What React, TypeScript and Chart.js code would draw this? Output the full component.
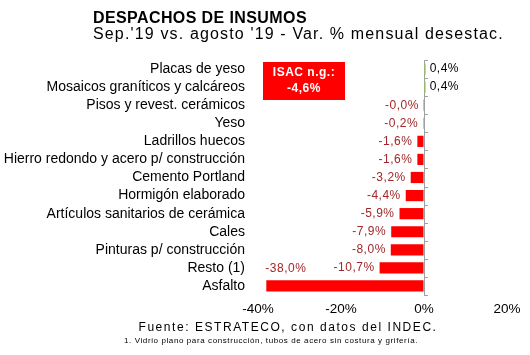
import React, { useEffect, useRef } from 'react';
import { Chart, registerables } from 'chart.js';

Chart.register(...registerables);

const categories = [
  'Placas de yeso',
  'Mosaicos graníticos y calcáreos',
  'Pisos y revest. cerámicos',
  'Yeso',
  'Ladrillos huecos',
  'Hierro redondo y acero p/ construcción',
  'Cemento Portland',
  'Hormigón elaborado',
  'Artículos sanitarios de cerámica',
  'Cales',
  'Pinturas p/ construcción',
  'Resto (1)',
  'Asfalto',
];
const values = [0.4, 0.4, -0.04, -0.2, -1.6, -1.6, -3.2, -4.4, -5.9, -7.9, -8.0, -10.7, -38.0];
const xTicks = [-40, -20, 0, 20];

const titleText = 'DESPACHOS DE INSUMOS';
const subtitleText = "Sep.'19 vs. agosto '19 - Var. % mensual desestac.";
const sourceText = 'Fuente: ESTRATECO, con datos del INDEC.';
const footnoteText = '1. Vidrio plano para construcción, tubos de acero sin costura y grifería.';
const boxLines = ['ISAC n.g.:', '-4,6%'];

const FONT = '"Liberation Sans", Arial, sans-serif';
const NEG = '#ff0000';
const POS = '#92d050';
const NEG_LABEL = '#a0282a';

const fmt = (v: number) => v.toFixed(1).replace('.', ',') + '%';

const overlayPlugin = {
  id: 'overlay',
  afterDatasetsDraw(chart: any) {
    const ctx = chart.ctx as CanvasRenderingContext2D;
    const meta = chart.getDatasetMeta(0);
    const xs = chart.scales.x;
    const ys = chart.scales.y;
    const x0 = xs.getPixelForValue(0);
    ctx.save();
    const step = ys.getPixelForTick(1) - ys.getPixelForTick(0);
    ctx.strokeStyle = '#a0a0a0';
    ctx.lineWidth = 1;
    for (let i = 0; i <= categories.length; i++) {
      const y = Math.round(ys.getPixelForTick(0) - step / 2 + i * step) + 0.5;
      ctx.beginPath();
      ctx.moveTo(x0, y);
      ctx.lineTo(x0 + 4, y);
      ctx.stroke();
    }
    ctx.font = `12px ${FONT}`;
    (ctx as any).letterSpacing = '0.5px';
    ctx.textBaseline = 'middle';
    meta.data.forEach((el: any, i: number) => {
      const v = values[i];
      const txt = fmt(v);
      if (v >= 0) {
        ctx.fillStyle = '#000';
        ctx.textAlign = 'left';
        ctx.fillText(txt, el.x + 4, el.y);
      } else if (Math.abs(el.x - el.base) > 100) {
        ctx.fillStyle = NEG_LABEL;
        ctx.textAlign = 'left';
        ctx.fillText(txt, el.x - 1, el.y - 17);
      } else {
        ctx.fillStyle = NEG_LABEL;
        ctx.textAlign = 'right';
        ctx.fillText(txt, el.x - 5, el.y);
      }
    });
    ctx.restore();
  },
  afterDraw(chart: any) {
    const ctx = chart.ctx as CanvasRenderingContext2D;
    ctx.save();
    ctx.textBaseline = 'middle';
    ctx.fillStyle = '#000';
    ctx.textAlign = 'left';
    ctx.font = `bold 16px ${FONT}`;
    (ctx as any).letterSpacing = '0.4px';
    ctx.fillText(titleText, 93, 18.5);
    ctx.font = `16px ${FONT}`;
    (ctx as any).letterSpacing = '1.15px';
    ctx.fillText(subtitleText, 93, 34.5);
    ctx.textAlign = 'center';
    ctx.font = `12px ${FONT}`;
    (ctx as any).letterSpacing = '1.55px';
    ctx.fillText(sourceText, 288, 328);
    ctx.font = `8px ${FONT}`;
    (ctx as any).letterSpacing = '0.6px';
    ctx.fillText(footnoteText, 271, 341);
    ctx.fillStyle = NEG;
    ctx.fillRect(263, 62, 82, 38);
    ctx.fillStyle = '#fff';
    ctx.font = `bold 12px ${FONT}`;
    (ctx as any).letterSpacing = '0.5px';
    ctx.fillText(boxLines[0], 304, 73);
    ctx.fillText(boxLines[1], 304, 89);
    ctx.restore();
  },
};

export default function App() {
  const ref = useRef<HTMLCanvasElement>(null);
  useEffect(() => {
    if (!ref.current) return;
    const chart = new Chart(ref.current, {
      type: 'bar',
      data: {
        labels: categories,
        datasets: [
          {
            data: values,
            backgroundColor: values.map((v) => (v >= 0 ? POS : NEG)),
            borderWidth: 0,
            barPercentage: 0.62,
            categoryPercentage: 1,
          },
        ],
      },
      options: {
        indexAxis: 'y',
        responsive: false,
        animation: false,
        devicePixelRatio: 1,
        layout: { padding: { top: 60, right: 23, bottom: 40, left: 0 } },
        plugins: {
          legend: { display: false },
          tooltip: { enabled: false },
          title: { display: false },
        },
        scales: {
          x: {
            min: -40,
            max: 20,
            afterBuildTicks: (s: any) => {
              s.ticks = xTicks.map((v) => ({ value: v }));
            },
            afterFit: (s: any) => {
              s.height = 20;
            },
            border: { display: false },
            grid: {
              drawTicks: false,
              color: (c: any) => (c.tick && c.tick.value === 0 ? '#a0a0a0' : 'rgba(0,0,0,0)'),
            },
            ticks: {
              padding: 6,
              color: '#000',
              font: { family: FONT, size: 13.5 },
              callback: (v: any) => `${v}%`,
            },
          },
          y: {
            afterFit: (s: any) => {
              s.width = 258;
            },
            border: { display: false },
            grid: { display: false, drawTicks: false },
            ticks: {
              padding: 13,
              color: '#000',
              font: { family: FONT, size: 14 },
              autoSkip: false,
            },
          },
        },
      },
      plugins: [overlayPlugin],
    } as any);
    return () => chart.destroy();
  }, []);
  return (
    <div style={{ position: 'absolute', left: 0, top: 0, width: 530, height: 355, background: '#fff' }}>
      <canvas ref={ref} width={530} height={355} style={{ width: 530, height: 355 }} />
    </div>
  );
}
